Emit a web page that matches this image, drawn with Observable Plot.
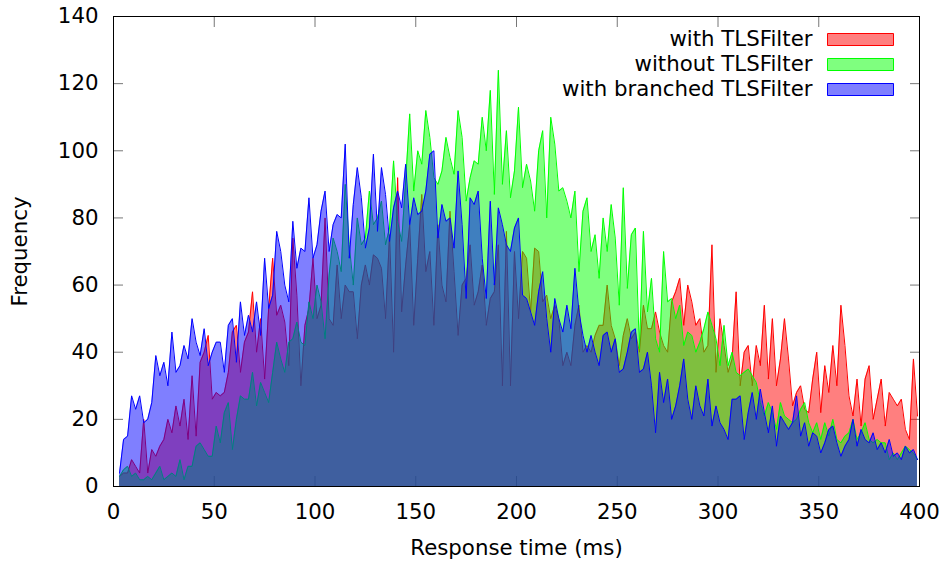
<!DOCTYPE html>
<html><head><meta charset="utf-8">
<script src="https://cdn.jsdelivr.net/npm/d3@7"></script>
<script src="https://cdn.jsdelivr.net/npm/@observablehq/plot@0.6"></script>
<style>body{margin:0;background:#fff}</style>
</head><body><div id="chart"></div>
<script>
const seriesNames = ["with TLSFilter", "without TLSFilter", "with branched TLSFilter"];
const seriesColors = ["#ff0000", "#00ff00", "#0000ff"];
const binStart = 3, binStep = 2; // response-time bins (ms)

const withTLS = [
  3, 4, 4, 8, 6, 4, 20, 4, 11, 9,
  12, 14, 20, 16, 24, 18, 26, 14, 33, 15,
  37, 40, 45, 26, 28, 27, 28, 34, 46, 48,
  34, 43, 46, 58, 40, 50, 32, 53, 68, 51,
  54, 49, 36, 74, 57, 30, 48, 53, 68, 50,
  54, 80, 50, 48, 66, 50, 60, 58, 58, 44,
  60, 66, 60, 69, 68, 65, 50, 75, 40, 92,
  52, 66, 78, 48, 68, 87, 64, 70, 48, 78,
  60, 55, 82, 64, 45, 60, 62, 72, 54, 58,
  66, 48, 56, 58, 72, 30, 76, 30, 70, 50,
  70, 68, 52, 71, 70, 55, 57, 50, 54, 50,
  36, 40, 36, 48, 54, 40, 42, 40, 45, 48,
  48, 60, 48, 44, 36, 45, 50, 44, 46, 40,
  54, 47, 47, 52, 46, 42, 40, 55, 58, 62,
  48, 60, 55, 48, 50, 40, 42, 72, 34, 50,
  42, 34, 38, 58, 30, 40, 42, 30, 42, 36,
  54, 32, 50, 30, 38, 50, 38, 24, 28, 30,
  23, 22, 32, 40, 22, 36, 28, 42, 30, 54,
  42, 27, 21, 32, 18, 32, 36, 20, 26, 32,
  18, 28, 26, 24, 26, 17, 14, 38, 21
];
const withoutTLS = [
  3, 5, 6, 3, 4, 2, 2, 3, 2, 4,
  6, 2, 3, 4, 3, 8, 2, 6, 6, 12,
  13, 11, 9, 9, 18, 13, 22, 25, 11, 20,
  27, 26, 26, 34, 24, 31, 28, 25, 34, 43,
  38, 34, 43, 44, 49, 43, 42, 55, 50, 60,
  55, 44, 63, 74, 70, 64, 90, 72, 60, 80,
  72, 74, 88, 78, 80, 85, 72, 77, 97, 79,
  73, 91, 111, 88, 100, 96, 112, 104, 92, 90,
  94, 104, 98, 93, 112, 104, 85, 92, 97, 96,
  110, 100, 118, 87, 124, 90, 106, 86, 94, 113,
  89, 96, 91, 82, 100, 106, 80, 110, 102, 88,
  89, 85, 80, 88, 64, 82, 86, 70, 75, 62,
  80, 70, 84, 74, 54, 89, 59, 75, 77, 41,
  76, 52, 62, 44, 40, 70, 55, 56, 50, 54,
  42, 46, 45, 40, 43, 47, 52, 48, 44, 36,
  48, 36, 40, 34, 33, 34, 35, 33, 31, 25,
  21, 25, 22, 17, 25, 21, 20, 19, 20, 23,
  25, 19, 16, 19, 14, 19, 15, 20, 14, 13,
  15, 16, 20, 14, 16, 19, 14, 13, 14, 13,
  13, 8, 10, 8, 10, 12, 11, 10, 8
];
const branchedTLS = [
  4, 14, 15, 27, 23, 27, 19, 20, 25, 39,
  33, 37, 30, 46, 34, 36, 42, 38, 50, 43,
  39, 47, 36, 40, 43, 43, 34, 48, 50, 37,
  55, 45, 51, 46, 55, 45, 68, 53, 57, 76,
  70, 60, 55, 79, 65, 71, 70, 86, 68, 72,
  82, 88, 70, 78, 81, 80, 102, 68, 84, 95,
  86, 71, 77, 99, 76, 95, 87, 73, 83, 88,
  83, 96, 78, 86, 81, 82, 88, 99, 100, 74,
  84, 79, 80, 71, 94, 78, 56, 86, 84, 88,
  68, 56, 85, 60, 83, 78, 72, 70, 77, 80,
  57, 56, 52, 48, 58, 64, 50, 40, 56, 50,
  46, 54, 47, 65, 52, 45, 40, 45, 40, 36,
  45, 46, 40, 44, 34, 35, 40, 46, 47, 34,
  35, 40, 30, 16, 34, 25, 32, 20, 24, 30,
  38, 26, 20, 30, 24, 21, 32, 18, 24, 19,
  17, 14, 26, 26, 27, 14, 22, 28, 20, 29,
  22, 16, 24, 12, 21, 19, 17, 19, 27, 15,
  19, 12, 16, 15, 10, 13, 17, 18, 13, 9,
  12, 14, 20, 12, 17, 14, 13, 16, 11, 13,
  10, 14, 9, 10, 8, 12, 10, 11, 8
];
const xTicks = [0, 50, 100, 150, 200, 250, 300, 350, 400];
const yTicks = [0, 20, 40, 60, 80, 100, 120, 140];
const xLabel = "Response time (ms)";
const yLabel = "Frequency";

const seriesValues = [withTLS, withoutTLS, branchedTLS];
const rows = seriesValues.map((vals, s) =>
  vals.map((v, i) => ({series: seriesNames[s], time: binStart + i * binStep, freq: v})));

const layers = rows.flatMap((data, s) => [
  Plot.areaY(data, {x: "time", y: "freq", fill: seriesColors[s], fillOpacity: 0.5}),
  Plot.lineY(data, {x: "time", y: "freq", stroke: seriesColors[s], strokeWidth: 1})
]);

const legend = seriesNames.flatMap((name, i) => [
  Plot.text([name], {frameAnchor: "top-right", dx: -107, dy: 23 + 25 * i,
    textAnchor: "end", lineAnchor: "middle", fill: "black"}),
  Plot.dot([name], {frameAnchor: "top-right", dx: -59, dy: 23 + 25 * i,
    symbol: {draw(ctx) { ctx.rect(-33, -6, 66, 12); }},
    fill: seriesColors[i], fillOpacity: 0.5, stroke: seriesColors[i], strokeWidth: 1})
]);

const tickStyle = {stroke: "#777", strokeWidth: 1, tickSize: -10, tickFormat: () => "", label: null};

const chart = Plot.plot({
  width: 946,
  height: 561,
  marginLeft: 113,
  marginRight: 27,
  marginTop: 16,
  marginBottom: 75,
  style: {fontFamily: "DejaVu Sans", fontSize: "21.3px", background: "white", color: "black"},
  x: {domain: [0, 400]},
  y: {domain: [0, 140]},
  marks: [
    Plot.axisX(xTicks, {anchor: "bottom", ...tickStyle}),
    Plot.axisX(xTicks, {anchor: "top", ...tickStyle}),
    Plot.axisY(yTicks, {anchor: "left", ...tickStyle}),
    Plot.axisY(yTicks, {anchor: "right", ...tickStyle}),
    ...layers,
    Plot.axisX(xTicks, {anchor: "bottom", tickSize: 0, tickPadding: 17, label: null}),
    Plot.axisY(yTicks, {anchor: "left", tickSize: 0, tickPadding: 15, label: null}),
    Plot.text([xLabel], {frameAnchor: "bottom", dy: 62, lineAnchor: "middle", textAnchor: "middle", fill: "black"}),
    Plot.text([yLabel], {frameAnchor: "left", dx: -93, rotate: -90, lineAnchor: "middle", textAnchor: "middle", fill: "black"}),
    ...legend,
    Plot.frame({stroke: "black", strokeWidth: 1})
  ]
});
document.getElementById("chart").append(chart);
</script>
</body></html>
